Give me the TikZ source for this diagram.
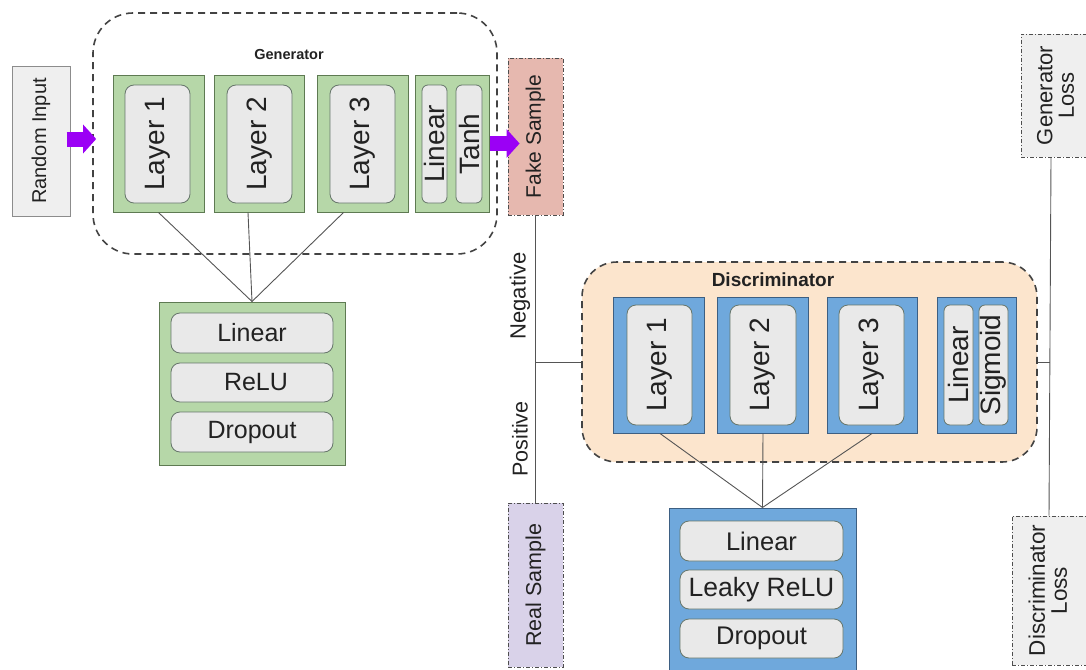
\documentclass[tikz,border=0pt]{standalone}
\usepackage{fontspec}
\setmainfont{Liberation Sans}
\usetikzlibrary{arrows.meta,calc}
\definecolor{gfill}{HTML}{B6D7A8}
\definecolor{gline}{HTML}{5E7A52}
\definecolor{bfill}{HTML}{6FA8DC}
\definecolor{bline}{HTML}{3D5F82}
\definecolor{cellfill}{HTML}{E9E9E9}
\definecolor{cellline}{HTML}{66756A}
\definecolor{peach}{HTML}{FCE5CD}
\definecolor{salmon}{HTML}{E6B8AF}
\definecolor{lavender}{HTML}{D9D2E9}
\definecolor{greybox}{HTML}{EFEFEF}
\definecolor{violetarrow}{HTML}{9B00F5}
\definecolor{ink}{HTML}{222222}
\definecolor{wire}{HTML}{555555}
\tikzset{
  fs/.style={font=\fontsize{#1}{#1}\selectfont},
  box/.style={rectangle, inner sep=0pt, anchor=center, text=ink},
  gouter/.style={box, draw=gline, fill=gfill, line width=1pt},
  bouter/.style={box, draw=bline, fill=bfill, line width=1pt},
  cell/.style={box, draw=cellline, fill=cellfill, line width=0.8pt, rounded corners=9pt},
  frame/.style={box, draw=ink!85, line width=1.6pt, dash pattern=on 7pt off 5pt, rounded corners=#1},
  sample/.style={box, draw=ink!80, line width=0.8pt, dash pattern=on 4pt off 2pt on 1pt off 2pt},
  plainbox/.style={box, draw=gray!90, fill=greybox, line width=1pt},
  wireline/.style={draw=wire, line width=0.9pt},
  fatarrow/.style={draw=violetarrow, line width=15pt, -{Triangle[length=13pt,width=28pt]}},
}
\newcommand{\up}[1]{\rotatebox{90}{#1}}
\newcommand{\uptwo}[2]{\rotatebox{90}{\begin{tabular}{@{}c@{}}#1\\#2\end{tabular}}}
\begin{document}
\begin{tikzpicture}[x=1pt,y=-1pt]
\useasboundingbox (0,0) rectangle (1086,669);
\clip (0,0) rectangle (1086,669);

% ---------------- Generator ----------------
\node[plainbox, minimum width=58pt, minimum height=150pt, fs=20] (ri) at (41,141) {\up{Random Input}};
\node[frame=40pt, minimum width=404pt, minimum height=241pt] (gen) at (295,133.5) {};
\node[box, fs=14.5, font=\bfseries\fontsize{14.5}{14.5}\selectfont] (genlabel) at (289,55) {Generator};

\node[gouter, minimum width=91pt, minimum height=137pt] (gL1) at (158.5,143.5) {};
\node[cell, minimum width=65pt, minimum height=118pt, fs=28] (gL1i) at (157.5,144) {\up{Layer 1}};
\node[gouter, minimum width=90pt, minimum height=137pt] (gL2) at (259,143.5) {};
\node[cell, minimum width=65pt, minimum height=118pt, fs=28] (gL2i) at (259.5,144) {\up{Layer 2}};
\node[gouter, minimum width=91pt, minimum height=137pt] (gL3) at (362.5,143.5) {};
\node[cell, minimum width=65pt, minimum height=118pt, fs=28] (gL3i) at (362.5,144) {\up{Layer 3}};
\node[gouter, minimum width=74pt, minimum height=137pt] (gLT) at (452,143.5) {};
\node[cell, rounded corners=6pt, minimum width=25pt, minimum height=118pt, fs=28] (gLin) at (434.5,144) {\up{Linear}};
\node[cell, rounded corners=6pt, minimum width=26pt, minimum height=118pt, fs=28] (gTanh) at (469,144) {\up{Tanh}};

\node[sample, fill=salmon, minimum width=55pt, minimum height=157pt, fs=21] (fake) at (535.5,136.5) {\up{Fake Sample}};

\node[gouter, minimum width=186pt, minimum height=163pt] (gb) at (252,383.5) {};
\node[cell, minimum width=162pt, minimum height=40pt, fs=25] (gbLin) at (252,333) {Linear};
\node[cell, minimum width=162pt, minimum height=39pt, fs=25] (gbReLU) at (252,382.5) {\hspace{8pt}ReLU};
\node[cell, minimum width=162pt, minimum height=40pt, fs=25] (gbDrop) at (252,432) {Dropout};

\draw[fatarrow] ($(ri.east)+(-4,-2)$) coordinate (a1s) -- ($(gen.west |- a1s)+(4,0)$);
\draw[fatarrow] (gLT.east) -- ($(fake.west |- gLT.east)+(12,0)$);

\draw[wireline] (gL1.south) -- (gb.north);
\draw[wireline] ($(gL2.south)+(-11,0)$) -- (gb.north);
\draw[wireline] ($(gL3.south)+(-19,0)$) -- (gb.north);

% ---------------- Discriminator ----------------
\node[frame=35pt, fill=peach, minimum width=455pt, minimum height=200pt] (disc) at (809.5,362) {};
\node[box, font=\bfseries\fontsize{19}{19}\selectfont] (disclabel) at (773,280) {Discriminator};

\node[bouter, minimum width=91pt, minimum height=136pt] (dL1) at (658.5,365) {};
\node[cell, minimum width=65pt, minimum height=120pt, fs=28] (dL1i) at (659.5,365) {\up{Layer 1}};
\node[bouter, minimum width=91pt, minimum height=136pt] (dL2) at (762.5,365) {};
\node[cell, minimum width=66pt, minimum height=120pt, fs=28] (dL2i) at (763,365) {\up{Layer 2}};
\node[bouter, minimum width=90pt, minimum height=136pt] (dL3) at (872,365) {};
\node[cell, minimum width=65pt, minimum height=120pt, fs=28] (dL3i) at (871.5,365) {\up{Layer 3}};
\node[bouter, minimum width=79pt, minimum height=136pt] (dLS) at (976.5,365) {};
\node[cell, rounded corners=6pt, minimum width=29pt, minimum height=120pt, fs=28] (dLin) at (958.5,365) {\up{Linear}};
\node[cell, rounded corners=6pt, minimum width=29pt, minimum height=120pt, fs=28] (dSig) at (993.5,365) {\up{Sigmoid}};

\node[bouter, minimum width=187pt, minimum height=172pt] (db) at (762.5,594) {};
\node[cell, minimum width=163pt, minimum height=40pt, fs=25.5] (dbLin) at (761.5,541) {Linear};
\node[cell, minimum width=163pt, minimum height=39pt, fs=26.5] (dbLeaky) at (761.5,589.5) {Leaky ReLU};
\node[cell, minimum width=163pt, minimum height=39pt, fs=25.5] (dbDrop) at (761.5,638.5) {Dropout};

\draw[wireline] ($(dL1.south)+(1.5,0)$) -- (db.north);
\draw[wireline] ($(dL2.south)+(0.5,0)$) -- (db.north);
\draw[wireline] (dL3.south) -- (db.north);

\node[sample, fill=lavender, minimum width=55pt, minimum height=164pt, fs=21.5] (real) at (535.5,585) {\up{Real Sample}};

% samples feed the discriminator
\draw[wireline] (fake.south) -- (real.north);
\coordinate (jin) at (fake.south |- disc.west);
\draw[wireline] (jin) -- (disc.west);
\node[box, fs=22] (neg) at (520,296) {\up{Negative}};
\node[box, fs=21.5] (pos) at (520,439) {\up{Positive}};

% ---------------- Losses ----------------
\node[sample, fill=greybox, minimum width=75pt, minimum height=123pt, font=\fontsize{22}{21}\selectfont] (gloss) at (1058.5,95.5) {\uptwo{Generator}{Loss}};
\node[sample, fill=greybox, minimum width=78pt, minimum height=149pt, font=\fontsize{22.5}{22}\selectfont] (dloss) at (1051,590.5) {\uptwo{Discriminator}{Loss}};

\coordinate (gls) at ($(gloss.south)+(-7.5,0)$);
\coordinate (dln) at ($(dloss.north)+(-2,0)$);
\draw[wireline] (gls) -- (dln);
\coordinate (jout) at ($(gls)!0.5!(dln)$);
\draw[wireline] (disc.east) -- (disc.east -| jout);
\end{tikzpicture}
\end{document}
